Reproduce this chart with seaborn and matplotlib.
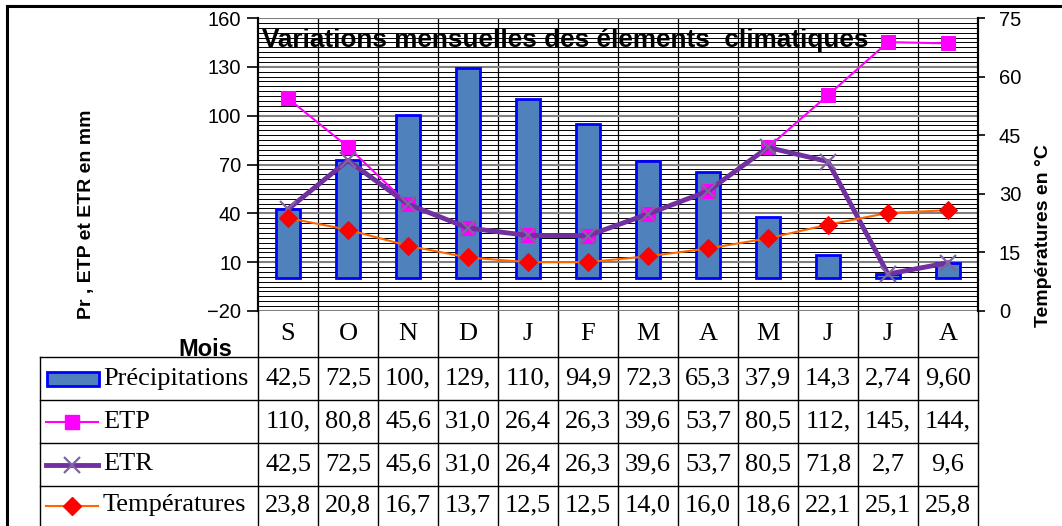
import numpy as np
import pandas as pd
import matplotlib
matplotlib.use("Agg")
import matplotlib.pyplot as plt
import matplotlib.transforms as mtransforms
from matplotlib.lines import Line2D
from matplotlib.patches import Rectangle
import seaborn as sns

# données mensuelles (septembre -> août)
mois = ["S", "O", "N", "D", "J", "F", "M", "A", "M", "J", "J", "A"]
precipitations = [42.5, 72.5, 100.2, 129.3, 110.5, 94.9, 72.3, 65.3, 37.9, 14.3, 2.74, 9.60]
etp = [110.6, 80.8, 45.6, 31.0, 26.4, 26.3, 39.6, 53.7, 80.5, 112.6, 145.2, 144.4]
etr = [42.5, 72.5, 45.6, 31.0, 26.4, 26.3, 39.6, 53.7, 80.5, 71.8, 2.7, 9.6]
temperatures = [23.8, 20.8, 16.7, 13.7, 12.5, 12.5, 14.0, 16.0, 18.6, 22.1, 25.1, 25.8]

series_names = ["Précipitations", "ETP", "ETR", "Températures"]
left_ticks = list(range(-20, 161, 30))
right_ticks = list(range(0, 76, 15))

df = pd.DataFrame({
    "pos": np.arange(len(mois)),
    "Précipitations": precipitations,
    "ETP": etp,
    "ETR": etr,
    "Températures": temperatures,
})

W, H = 1062, 526
SANS = "Liberation Sans"
SERIF = "Liberation Serif"
plt.rcParams["font.family"] = [SANS, "DejaVu Sans"]

bar_style = dict(color="#4F81BD", edgecolor="#0000FF", linewidth=2)
etp_style = dict(color="#FF00FF", lw=1.5, marker="s", ms=10, mfc="#FF00FF", mec="#FF00FF")
etr_style = dict(color="#7030A0", lw=3.5, marker="x", ms=12, mew=1.6, mec="#8064A2")
tmp_style = dict(color="#FF6600", lw=1.5, marker="D", ms=9, mfc="#FF0000", mec="#FF0000")


def fx(p):
    return p / W


def fy(p):
    return 1 - p / H


fig = plt.figure(figsize=(W / 100, H / 100), dpi=100)
ax = fig.add_axes([fx(258), fy(311), fx(978 - 258), (311 - 18) / H])

sns.barplot(data=df, x="pos", y="Précipitations", width=0.4, saturation=1,
            ax=ax, zorder=2, **bar_style)
sns.lineplot(data=df, x="pos", y="ETP", ax=ax, zorder=3, **etp_style)
sns.lineplot(data=df, x="pos", y="ETR", ax=ax, zorder=4, **etr_style)

ax2 = ax.twinx()
sns.lineplot(data=df, x="pos", y="Températures", ax=ax2, zorder=3, **tmp_style)

ax.set_xlim(-0.5, len(mois) - 0.5)
ax.set_ylim(left_ticks[0], left_ticks[-1])
ax.set_yticks(left_ticks)
ax.set_yticks(np.arange(left_ticks[0], left_ticks[-1] + 1, 3), minor=True)
ax.set_xticks([])
ax.set_xticks(np.arange(0.5, len(mois) - 0.5, 1), minor=True)
ax.set_xlabel("")
ax.set_ylabel("")
ax.grid(which="major", axis="y", color="#808080", lw=1.5, zorder=0)
ax.grid(which="minor", axis="y", color="black", lw=0.7, zorder=0)
ax.grid(which="minor", axis="x", color="black", lw=0.9, zorder=0)
ax.set_axisbelow(True)
ax.tick_params(axis="y", which="major", length=8, width=1.2, labelsize=14.5, pad=4)
ax.tick_params(axis="both", which="minor", length=0)
ax.tick_params(axis="x", which="major", length=0)

ax2.set_ylim(right_ticks[0], right_ticks[-1])
ax2.set_yticks(right_ticks)
ax2.set_ylabel("")
ax2.tick_params(axis="y", length=5, width=1.2, labelsize=14.5, pad=10)
ax2.grid(False)

for a in (ax, ax2):
    for side in ["left", "right"]:
        a.spines[side].set_color("black")
        a.spines[side].set_linewidth(1.5)
    a.spines["top"].set_visible(False)
    a.spines["bottom"].set_visible(False)

ax.text(0.006, 0.925, "Variations mensuelles des élements  climatiques",
        transform=ax.transAxes, ha="left", va="center", fontsize=18.8,
        weight="bold", zorder=1)

# libellés des axes
fig.text(fx(87), fy(214), "Pr , ETP et ETR en mm", rotation=90, ha="center",
         va="center", fontsize=14, weight="bold")
fig.text(fx(1044), fy(236), "Températures en °C", rotation=90, ha="center",
         va="center", fontsize=14, weight="bold")
fig.text(fx(205), fy(350), "Mois", ha="center", va="center", fontsize=17,
         weight="bold", zorder=3)

# tableau de données sous le graphique
tr = mtransforms.blended_transform_factory(ax.transData, fig.transFigure)
row_edges = [357, 400, 443, 486, 529]
fig.add_artist(Rectangle((fx(40), fy(529)), fx(978 - 40), (529 - 357) / H,
                         facecolor="white", edgecolor="none", zorder=3.5))
for e in row_edges[:-1]:
    fig.add_artist(Line2D([fx(40), fx(978)], [fy(e), fy(e)], color="black",
                          lw=1, zorder=4))
fig.add_artist(Line2D([fx(40), fx(40)], [fy(357), fy(529)], color="black", lw=1, zorder=4))
for k in range(len(mois) + 1):
    fig.add_artist(Line2D([k - 0.5, k - 0.5], [fy(311), fy(529)], transform=tr,
                          color="black", lw=1, zorder=4))

for i, m in enumerate(mois):
    fig.text(i, fy(334), m, transform=tr, ha="center", va="center",
             fontsize=19, family=SERIF, zorder=5)


def fmt(v, dec):
    return f"{v:.{dec}f}".replace(".", ",")[:4]


rows = [(precipitations, 2), (etp, 1), (etr, 1), (temperatures, 1)]
for r, (vals, dec) in enumerate(rows):
    yc = fy((row_edges[r] + row_edges[r + 1]) / 2 - (2 if r == 3 else 0))
    for i, v in enumerate(vals):
        fig.text(i, yc, fmt(v, dec), transform=tr, ha="center", va="center",
                 fontsize=19, family=SERIF, zorder=5)

# clés de légende
key_styles = [None, etp_style, etr_style, tmp_style]
for r, name in enumerate(series_names):
    yc = (row_edges[r] + row_edges[r + 1]) / 2
    if r == 3:
        yc -= 2
    if key_styles[r] is None:
        fig.add_artist(Rectangle((fx(47), fy(yc + 7)), fx(52), 14 / H,
                                 facecolor=bar_style["color"],
                                 edgecolor=bar_style["edgecolor"], lw=2, zorder=5))
    else:
        fig.add_artist(Line2D([fx(46), fx(72), fx(98)], [fy(yc)] * 3,
                              markevery=[1], zorder=5, **key_styles[r]))
    fig.text(fx(103), fy(yc), name, ha="left", va="center", fontsize=19,
             family=SERIF, zorder=5)

# cadre extérieur
fig.add_artist(Line2D([fx(7), fx(7)], [fy(6), 0], color="black", lw=2.2))
fig.add_artist(Line2D([fx(7), 1], [fy(6), fy(6)], color="black", lw=2.2))

fig.savefig("out.png", dpi=100)
